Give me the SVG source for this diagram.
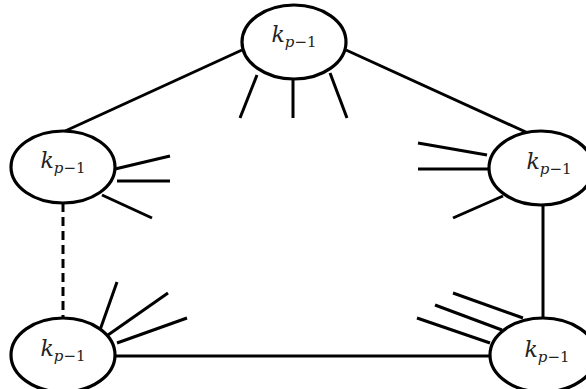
<svg xmlns="http://www.w3.org/2000/svg" width="586" height="389" viewBox="0 0 586 389">
<style>
.n{fill:#fff;stroke:#000;stroke-width:3.2}
.e{stroke:#000;stroke-width:3;fill:none}
.s{stroke:#000;stroke-width:3;fill:none}
.t{font-family:"DejaVu Serif","Liberation Serif",serif;font-size:22px;fill:#222}
.k{font-style:italic}
.sub{font-size:15px}
</style>
<g id="connectors">
<line class="e" x1="242" y1="50" x2="63" y2="132"/>
<line class="e" x1="346" y1="50" x2="528" y2="133"/>
<line class="e" x1="63" y1="203" x2="63" y2="319" stroke-dasharray="9 5" stroke-width="3.8"/>
<line class="e" x1="543" y1="205" x2="543" y2="319"/>
<line class="e" x1="115" y1="356" x2="490" y2="356"/>
</g>
<g id="node-top">
<ellipse class="n" cx="294" cy="42" rx="52" ry="37"/>
<line class="s" x1="257" y1="75" x2="240" y2="118"/>
<line class="s" x1="293" y1="80" x2="293" y2="118"/>
<line class="s" x1="330" y1="73" x2="347" y2="118"/>
<text class="t" x="294" y="42" text-anchor="middle"><tspan class="k">k</tspan><tspan class="sub" dy="5"><tspan class="k">p</tspan>−1</tspan></text>
</g>
<g id="node-left">
<ellipse class="n" cx="63" cy="167" rx="52" ry="36"/>
<line class="s" x1="115" y1="169" x2="170" y2="156"/>
<line class="s" x1="117" y1="181" x2="170" y2="181"/>
<line class="s" x1="102" y1="195" x2="152" y2="218"/>
<text class="t" x="63" y="168" text-anchor="middle"><tspan class="k">k</tspan><tspan class="sub" dy="5"><tspan class="k">p</tspan>−1</tspan></text>
</g>
<g id="node-right">
<ellipse class="n" cx="541" cy="168" rx="52" ry="37"/>
<line class="s" x1="487" y1="155" x2="418" y2="143"/>
<line class="s" x1="489" y1="169" x2="418" y2="169"/>
<line class="s" x1="503" y1="196" x2="453" y2="218"/>
<text class="t" x="549" y="169" text-anchor="middle"><tspan class="k">k</tspan><tspan class="sub" dy="5"><tspan class="k">p</tspan>−1</tspan></text>
</g>
<g id="node-bottom-left">
<ellipse class="n" cx="63" cy="355" rx="52" ry="37"/>
<line class="s" x1="100" y1="330" x2="117" y2="282"/>
<line class="s" x1="108" y1="335" x2="168" y2="293"/>
<line class="s" x1="117" y1="343" x2="187" y2="318"/>
<text class="t" x="63" y="356" text-anchor="middle"><tspan class="k">k</tspan><tspan class="sub" dy="5"><tspan class="k">p</tspan>−1</tspan></text>
</g>
<g id="node-bottom-right">
<ellipse class="n" cx="543" cy="355" rx="53" ry="37"/>
<line class="s" x1="523" y1="318" x2="453" y2="293"/>
<line class="s" x1="502" y1="330" x2="435" y2="305"/>
<line class="s" x1="490" y1="343" x2="417" y2="318"/>
<text class="t" x="547" y="357" text-anchor="middle"><tspan class="k">k</tspan><tspan class="sub" dy="5"><tspan class="k">p</tspan>−1</tspan></text>
</g>
</svg>
